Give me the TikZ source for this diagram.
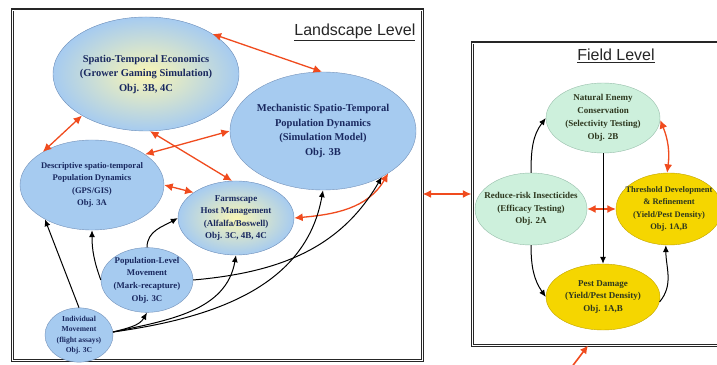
\documentclass[tikz,border=0pt]{standalone}
\usepackage{fontspec}
\setmainfont{Liberation Serif}
\newfontfamily\headfont{Liberation Sans}
\usepackage{tikz}
\usetikzlibrary{shapes.geometric,arrows.meta}

\definecolor{skyfill}{RGB}{166,203,240}
\definecolor{skyline}{RGB}{115,145,185}
\definecolor{glowcore}{RGB}{250,246,180}
\definecolor{mintfill}{RGB}{205,240,220}
\definecolor{mintline}{RGB}{150,190,170}
\definecolor{goldfill}{RGB}{245,214,0}
\definecolor{goldline}{RGB}{195,165,0}
\definecolor{inkblue}{RGB}{25,40,95}
\definecolor{inkolive}{RGB}{45,55,30}
\definecolor{arrowred}{RGB}{240,75,30}

\begin{document}
\begin{tikzpicture}[x=1pt,y=1pt,
		blob/.style={ellipse, draw=skyline, fill=skyfill, inner xsep=-20pt, inner ysep=0pt,
			align=center, text=inkblue},
		glow/.style={shade, inner color=glowcore, outer color=skyfill},
		fieldblob/.style={blob, draw=mintline, fill=mintfill, text=inkolive,
			font=\fontsize{9}{12.8}\selectfont\bfseries},
		goldblob/.style={fieldblob, draw=goldline, fill=goldfill},
		frame/.style={draw=black!85, double=white, double distance=0.8pt, line width=1.1pt},
		heading/.style={font=\headfont\fontsize{16}{18}\selectfont, text=black!85, inner sep=0pt},
		twoway/.style={draw=arrowred, line width=1.3pt,
			{Latex[length=8.5pt,width=8pt]}-{Latex[length=8.5pt,width=8pt]}},
		oneway/.style={draw=black, line width=1pt, -{Latex[length=7pt,width=6pt]}}
	]
		
		% Page
		\useasboundingbox (0,0) rectangle (717,364);
		\clip (0,0) rectangle (717,364);
		\fill[white] (0,0) rectangle (717,364);
		
		% Boxes for the two levels
		\node[frame, minimum width=410, minimum height=350] (land) at (217,179) {};
		\node[frame, minimum width=298, minimum height=302] (field) at (621,170) {};
		\node[heading, anchor=north east] (landtitle) at ([xshift=-7pt,yshift=-14pt]land.north east)
		{\underline{Landscape Level}};
		\node[heading] (fieldtitle) at (616,308) {\underline{Field Level}};
		
		% Landscape level ellipses
		\node[blob, glow, draw=skyline, minimum width=186, minimum height=114,
		font=\fontsize{10.5}{14.5}\selectfont\bfseries] (econ) at (146,290)
		{Spatio-Temporal Economics\\(Grower Gaming Simulation)\\Obj. 3B, 4C};
		\node[blob, minimum width=186, minimum height=118,
		font=\fontsize{10.5}{14.5}\selectfont\bfseries] (mech) at (323,233)
		{Mechanistic Spatio-Temporal\\Population Dynamics\\(Simulation Model)\\Obj. 3B};
		\node[blob, minimum width=144, minimum height=90,
		font=\fontsize{8.6}{12.5}\selectfont\bfseries] (desc) at (92,179)
		{Descriptive spatio-temporal\\Population Dynamics\\(GPS/GIS)\\Obj. 3A};
		\node[blob, glow, draw=skyline, minimum width=116, minimum height=74,
		font=\fontsize{9}{12.5}\selectfont\bfseries] (farm) at (236,146)
		{Farmscape\\Host Management\\(Alfalfa/Boswell)\\Obj. 3C, 4B, 4C};
		\node[blob, minimum width=92, minimum height=58,
		font=\fontsize{8.8}{12.6}\selectfont\bfseries] (pop) at (147,84)
		{Population-Level\\Movement\\(Mark-recapture)\\Obj. 3C};
		\node[blob, minimum width=68, minimum height=46,
		font=\fontsize{7.6}{10.5}\selectfont\bfseries] (indiv) at (79,29)
		{Individual\\Movement\\(flight assays)\\Obj. 3C};
		
		% Field level ellipses
		\node[fieldblob, minimum width=114, minimum height=70] (enemy) at (603,246)
		{Natural Enemy\\Conservation\\(Selectivity Testing)\\Obj. 2B};
		\node[fieldblob, minimum width=112, minimum height=72] (reduce) at (531,155)
		{Reduce-risk Insecticides\\(Efficacy Testing)\\Obj. 2A};
		\node[goldblob, minimum width=106, minimum height=72,
		font=\fontsize{8.5}{12.5}\selectfont\bfseries] (thresh) at (669,155)
		{Threshold Development\\\& Refinement\\(Yield/Pest Density)\\Obj. 1A,B};
		\node[goldblob, minimum width=114, minimum height=66] (pest) at (603,67)
		{Pest Damage\\(Yield/Pest Density)\\Obj. 1A,B};
		
		% Red two-way links, landscape
		\draw[twoway] (econ.31) -- (mech.91);
		\draw[twoway] (econ.213) -- (desc.146);
		\draw[twoway] (econ.274) -- (farm.96);
		\draw[twoway] (desc.30) -- (mech.180);
		\draw[twoway] (desc.0) -- (farm.149);
		\draw[twoway] (farm.0) to[out=5,in=240] (mech.-33);
		
		% Black one-way links, landscape
		\draw[oneway] (indiv.90) -- (desc.216);
		\draw[oneway] (indiv.5) to[out=15,in=-120] (pop.south);
		\draw[oneway] (indiv.5) to[out=12,in=-100] (farm.south);
		\draw[oneway] (indiv.5) to[out=8,in=-100] (mech.south);
		\draw[oneway] (pop.west) to[out=110,in=-90] (desc.south);
		\draw[oneway] (pop.north) to[out=90,in=210] (farm.west);
		\draw[oneway] (pop.east) to[out=5,in=240] (mech.-38);
		
		% Field level links
		\draw[twoway] (enemy.-2) to[bend left=15] (thresh.93);
		\draw[twoway] (reduce.east) -- (thresh.west);
		\draw[oneway] (reduce.north) to[out=90,in=233] (enemy.west);
		\draw[oneway] (reduce.south) to[out=-90,in=125] (pest.west);
		\draw[oneway] (enemy.south) -- (pest.north);
		\draw[oneway] (pest.-5) to[out=50,in=-90] (thresh.265);
		
		% Between the levels, and the feed from below
		\draw[twoway, line width=2pt] (land.east |- field.west) -- (field.west);
		\coordinate (feed) at (571,-4);
		\draw[draw=arrowred, line width=1.6pt, -{Latex[length=8pt,width=8pt]}]
		(feed) -- ([xshift=-33pt]field.south);
		
	\end{tikzpicture}
\end{document}
